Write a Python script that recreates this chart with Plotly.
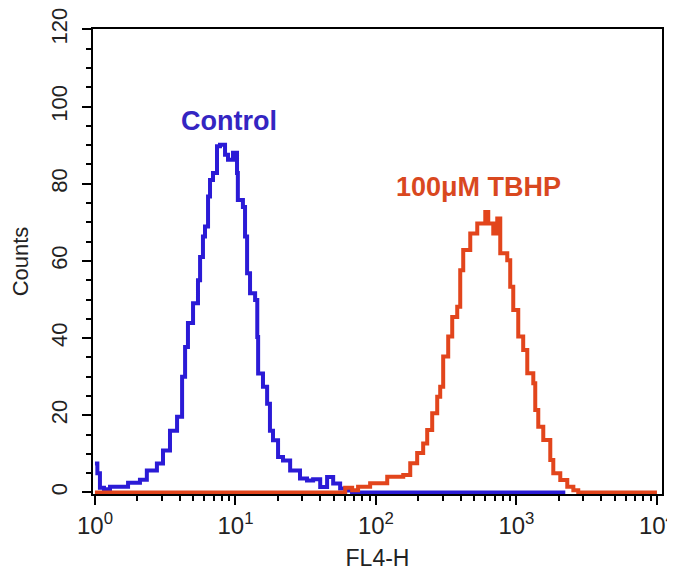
import plotly.graph_objects as go

# FL4-H channel value where each step starts, and counts for that step
control_x = [1.0, 1.04, 1.085, 1.16, 1.28, 1.72, 2.09, 2.34, 2.76, 3.05, 3.42, 3.84,
             4.17, 4.38, 4.59, 4.99, 5.41, 5.6, 5.87, 6.07, 6.38, 6.59, 6.92, 7.39,
             7.76, 8.43, 8.85, 9.61, 10.26, 10.4, 11.3, 11.7, 12.1, 12.7, 13.8, 14.3,
             14.5, 15.7, 16.8, 17.6, 18.5, 20.1, 21.8, 24.5, 28.8, 32.3, 35.7, 40.1,
             44.9, 49.6, 55.6, 62.3, 67.6, 2227]
control_y = [7.5, 5.0, 1.2, 0.8, 1.5, 2.5, 3.3, 5.7, 7.5, 10.9, 16.0, 19.6,
             30.0, 37.7, 43.9, 49.0, 55.0, 61.0, 66.3, 68.9, 76.7, 81.0, 82.8, 89.7,
             90.1, 87.5, 86.2, 88.0, 82.8, 75.8, 74.0, 66.3, 56.8, 51.6, 49.9, 40.3,
             30.8, 27.4, 23.0, 16.0, 13.5, 9.2, 8.3, 5.7, 3.6, 3.1, 3.4, 1.4,
             4.0, 2.3, 1.0, 0.5, 0.0, 0.0]

tbhp_x = [1.0, 55.6, 60.4, 67.7, 74.6, 90.9, 120.3, 156.4, 175.4, 196.5, 216.8, 231.6,
          251.4, 272.9, 286.6, 301.0, 326.8, 349.0, 378.8, 398.0, 418.0, 469.0, 526.0,
          600.0, 630.0, 684.0, 730.0, 767.0, 860.0, 903.0, 949.0, 1030.0, 1117.0,
          1194.0, 1318.0, 1361.0, 1430.0, 1552.0, 1741.0, 1829.0, 2051.0, 2300.0,
          2541.0, 2754.0, 10000.0]
tbhp_y = [0.0, 0.0, 1.2, 0.6, 1.5, 2.4, 4.1, 4.5, 7.6, 10.2, 12.7, 16.2,
          20.5, 24.8, 27.4, 35.2, 40.4, 45.5, 48.1, 57.6, 62.8, 67.1, 69.7,
          72.7, 69.7, 67.1, 71.0, 62.0, 60.2, 53.3, 47.3, 40.4, 36.9,
          30.9, 28.3, 21.4, 17.0, 13.6, 8.4, 5.0, 3.2, 1.5,
          0.6, 0.0, 0.0]

x_major = [1, 10, 100, 1000, 10000]
x_labels = ["10<sup>0</sup>", "10<sup>1</sup>", "10<sup>2</sup>", "10<sup>3</sup>", "10<sup>4</sup>"]
x_minor = [m * 10 ** k for k in range(4) for m in range(2, 10)]

BLUE = "#2B1BD6"
RED = "#E2451C"
FONT = "Liberation Sans, Arial, sans-serif"

fig = go.Figure()
fig.add_trace(go.Scatter(x=control_x, y=control_y, mode="lines", line_shape="hv",
                         line=dict(color=BLUE, width=4), name="Control"))
fig.add_trace(go.Scatter(x=tbhp_x, y=tbhp_y, mode="lines", line_shape="hv",
                         line=dict(color=RED, width=4), name="100μM TBHP"))

fig.add_annotation(x=0.954, y=96.3, xref="x", yref="y", text="<b>Control</b>",
                   showarrow=False, font=dict(family=FONT, size=27, color="#3425C2"))
fig.add_annotation(x=2.728, y=79.2, xref="x", yref="y", text="<b>100μM TBHP</b>",
                   showarrow=False, font=dict(family=FONT, size=27, color="#D9481F"))

# the page body has an 8px margin, so the figure is a bit smaller than the window
fig.update_layout(
    width=667, height=565,
    margin=dict(l=85, r=13, t=21, b=79),
    plot_bgcolor="white", paper_bgcolor="white",
    showlegend=False,
    font=dict(family=FONT, color="#222"),
    xaxis=dict(
        type="log", range=[-0.014, 4.036], automargin=False,
        tickmode="array", tickvals=x_major, ticktext=x_labels,
        ticklabeloverflow="allow",
        ticks="outside", ticklen=9, tickwidth=2, tickcolor="black",
        minor=dict(tickmode="array", tickvals=x_minor, ticks="outside",
                   ticklen=5, tickwidth=2, tickcolor="black"),
        showline=True, linecolor="black", linewidth=2, mirror=True,
        showgrid=False, zeroline=False,
        tickfont=dict(size=24),
        title=dict(text="FL4-H", font=dict(size=23), standoff=12),
    ),
    yaxis=dict(
        range=[-0.4, 120.1], automargin=False,
        tickmode="array", tickvals=[0, 20, 40, 60, 80, 100, 120],
        ticklabeloverflow="allow",
        ticks="outside", ticklen=9, tickwidth=2, tickcolor="black",
        minor=dict(dtick=5, tick0=0, ticks="outside", ticklen=5, tickwidth=2,
                   tickcolor="black"),
        tickangle=-90, ticklabelstandoff=6,
        showline=True, linecolor="black", linewidth=2, mirror=True,
        showgrid=False, zeroline=False,
        tickfont=dict(size=22),
        title=dict(text="Counts", font=dict(size=22), standoff=18),
    ),
)

fig.write_html("out.html")
